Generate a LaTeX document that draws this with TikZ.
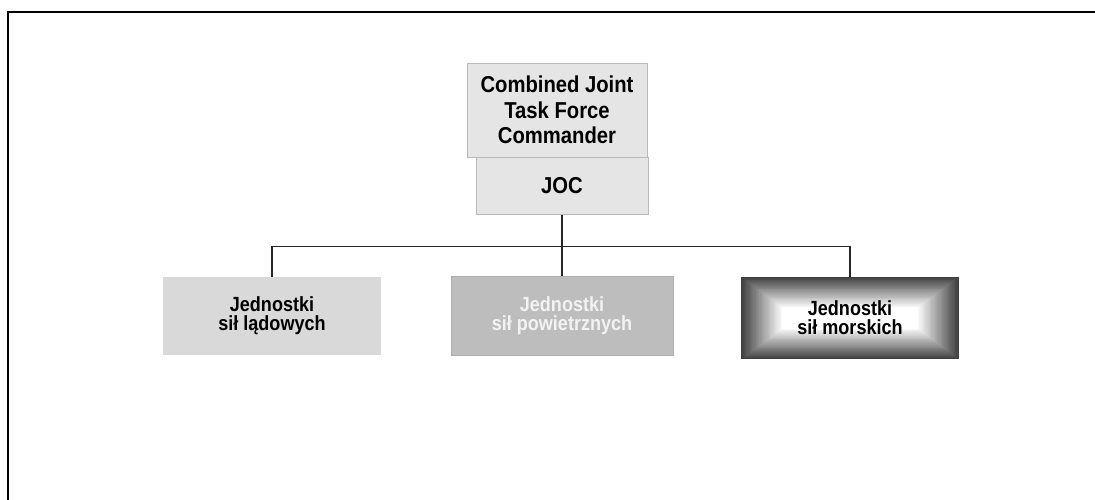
\documentclass[tikz,border=0pt]{standalone}
\usepackage{fontspec}
\setmainfont{Liberation Sans}
\newfontfamily\boxfont[FakeStretch=0.88]{Liberation Sans}
\usetikzlibrary{backgrounds,calc}
\begin{document}
\begin{tikzpicture}[x=1pt,y=-1pt,
  frameline/.style={line width=2pt,black},
  link/.style={line width=1.1pt,black!85},
  topbox/.style={draw=gray!55,line width=0.8pt,fill=gray!20,inner sep=0pt,align=center,
    font=\boxfont\bfseries\fontsize{23}{25.5}\selectfont},
  unitbox/.style={inner sep=0pt,align=center,
    font=\boxfont\bfseries\fontsize{20.5}{19}\selectfont}]
\useasboundingbox (0,0) rectangle (1095,500);
\draw[frameline] (8,500) -- (8,12) -- (1095,12);

\node[topbox,minimum width=180pt,minimum height=94pt] (cjtf) at (557,110)
  {Combined Joint\\Task Force\\Commander};
\node[topbox,minimum width=172pt,minimum height=57pt] (joc) at (562,186) {JOC};

\node[unitbox,fill=gray!30,minimum width=218pt,minimum height=78pt] (land) at (272,316)
  {Jednostki\\sił lądowych};
\node[unitbox,fill=gray!52,draw=gray!65,text=gray!10,minimum width=222pt,minimum height=79pt] (air) at (562,316)
  {Jednostki\\sił powietrznych};
\node[unitbox,minimum width=217pt,minimum height=82pt] (sea) at (850,318)
  {Jednostki\\sił morskich};
\begin{scope}[on background layer]
  \foreach \i in {0,...,40}{
    \pgfmathsetmacro\c{max(0,75-2.2*\i)}
    \fill[black!\c] ($(sea.north west)+(\i*1.2,\i*0.9)$) rectangle ($(sea.south east)-(\i*1.2,\i*0.9)$);
  }
\end{scope}

\draw[link] (joc.south) -- (air.north);
\draw[link] (land.north) -- ++(0,-30) -| (sea.north);
\end{tikzpicture}
\end{document}
